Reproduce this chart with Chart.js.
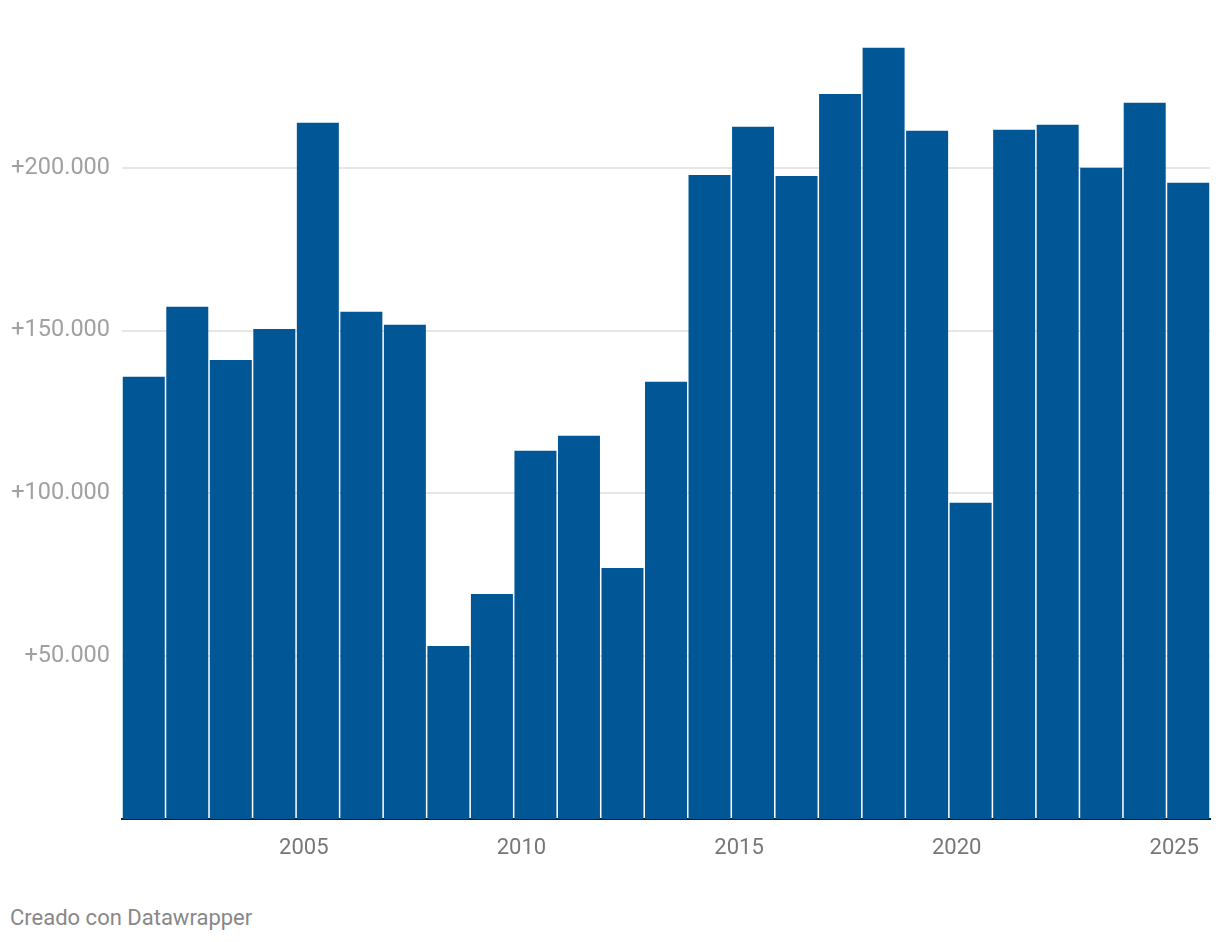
<!DOCTYPE html>
<html>
<head>
<meta charset="utf-8">
<script src="https://cdn.jsdelivr.net/npm/chart.js@4/dist/chart.umd.min.js"></script>
<style>
  html, body { margin: 0; padding: 0; background: #fff; }
  #wrap { position: relative; width: 1220px; height: 942px; }
  #chart { position: absolute; left: 0; top: 0; }
  #footer {
    position: absolute; left: 10px; top: 905px;
    font-family: Roboto, sans-serif; font-size: 22px; color: #888;
  }
</style>
</head>
<body>
<div id="wrap">
  <canvas id="chart" width="1220" height="880"></canvas>
  <div id="footer">Creado con Datawrapper</div>
</div>
<script>
// años y variación anual
var years = [2001, 2002, 2003, 2004, 2005, 2006, 2007, 2008, 2009, 2010, 2011, 2012, 2013,
             2014, 2015, 2016, 2017, 2018, 2019, 2020, 2021, 2022, 2023, 2024, 2025];
var values = [135800, 157300, 141000, 150500, 213800, 155800, 151800, 53100, 69100, 113100,
              117700, 77100, 134300, 197800, 212600, 197500, 222700, 236900, 211400, 97100,
              211700, 213200, 200000, 220000, 195400];
var yTicks = [50000, 100000, 150000, 200000];
var xTickYears = [2005, 2010, 2015, 2020, 2025];

function fmt(v) {
  return '+' + v.toString().replace(/\B(?=(\d{3})+(?!\d))/g, '.');
}

var ctx = document.getElementById('chart').getContext('2d');
var chart = new Chart(ctx, {
  type: 'bar',
  data: {
    labels: years,
    datasets: [{
      data: values,
      backgroundColor: '#015696',
      barPercentage: 0.965,
      categoryPercentage: 1,
      borderWidth: 0
    }]
  },
  options: {
    responsive: false,
    animation: false,
    layout: { padding: { top: 5, right: 10, left: 0, bottom: 0 } },
    plugins: { legend: { display: false }, tooltip: { enabled: false } },
    scales: {
      x: {
        grid: { display: false, drawTicks: false },
        border: { display: true, color: '#1a1a1a', width: 2 },
        ticks: {
          autoSkip: false,
          maxRotation: 0,
          padding: 16,
          labelOffset: -14,
          color: '#777',
          font: { family: 'Roboto', size: 22 },
          callback: function (val, i) {
            var y = years[i];
            return xTickYears.indexOf(y) >= 0 ? String(y) : '';
          }
        },
        afterFit: function (scale) {
          scale.height = 61;
          scale.paddingLeft = 0;
          scale.paddingRight = 0;
        }
      },
      y: {
        min: 0,
        max: 250000,
        afterBuildTicks: function (scale) {
          scale.ticks = yTicks.map(function (v) { return { value: v }; });
        },
        grid: { color: '#e6e6e6', lineWidth: 2, drawTicks: false },
        border: { display: false },
        ticks: {
          padding: 12,
          color: '#a0a0a0',
          font: { family: 'Roboto', size: 23.5 },
          callback: function (v) { return fmt(v); }
        },
        afterFit: function (scale) {
          scale.width = 122;
          scale.paddingTop = 0;
          scale.paddingBottom = 0;
        }
      }
    }
  }
});
</script>
</body>
</html>
